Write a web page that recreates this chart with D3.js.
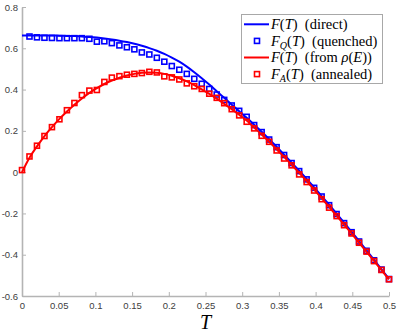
<!DOCTYPE html>
<html>
<head>
<meta charset="utf-8">
<script src="https://cdn.jsdelivr.net/npm/d3@7"></script>
<style>
  body { margin: 0; background: #fff; }
  svg { display: block; }
</style>
</head>
<body>
<script>
// temperature grid
var temps = [0, 0.0102, 0.0204, 0.0306, 0.0408, 0.051, 0.0612, 0.0714, 0.0816, 0.0918,
  0.102, 0.1122, 0.1224, 0.1327, 0.1429, 0.1531, 0.1633, 0.1735, 0.1837, 0.1939,
  0.2041, 0.2143, 0.2245, 0.2347, 0.2449, 0.2551, 0.2653, 0.2755, 0.2857, 0.2959,
  0.3061, 0.3163, 0.3265, 0.3367, 0.3469, 0.3571, 0.3673, 0.3776, 0.3878, 0.398,
  0.4082, 0.4184, 0.4286, 0.4388, 0.449, 0.4592, 0.4694, 0.4796, 0.4898, 0.5]

// F(T) direct (blue line)
var fDirect = [0.662, 0.662, 0.662, 0.662, 0.662, 0.661, 0.66, 0.659, 0.657, 0.655,
  0.652, 0.648, 0.643, 0.637, 0.63, 0.622, 0.612, 0.601, 0.588, 0.573,
  0.555, 0.535, 0.511, 0.484, 0.455, 0.424, 0.392, 0.36, 0.327, 0.295,
  0.263, 0.23, 0.196, 0.16, 0.123, 0.085, 0.046, 0.007, -0.033, -0.074,
  -0.116, -0.158, -0.201, -0.245, -0.289, -0.334, -0.379, -0.425, -0.471, -0.517]

// F_Q(T) quenched (blue squares)
var fQuenched = [null, 0.657, 0.653, 0.651, 0.65, 0.649, 0.649, 0.649, 0.649, 0.646,
  0.632, 0.634, 0.625, 0.614, 0.605, 0.595, 0.58, 0.57, 0.554, 0.535,
  0.514, 0.496, 0.476, 0.452, 0.428, 0.403, 0.376, 0.35, 0.323, 0.297,
  0.268, 0.228, 0.194, 0.158, 0.121, 0.083, 0.044, 0.005, -0.035, -0.076,
  -0.118, -0.16, -0.203, -0.247, -0.291, -0.336, -0.381, -0.427, -0.472, -0.518]

// F(T) from rho(E) (red line)
var fRho = [0.0, 0.07, 0.125, 0.175, 0.218, 0.258, 0.294, 0.327, 0.357, 0.384,
  0.407, 0.427, 0.444, 0.457, 0.468, 0.476, 0.481, 0.483, 0.481, 0.476,
  0.467, 0.455, 0.44, 0.422, 0.401, 0.379, 0.356, 0.331, 0.305, 0.278,
  0.25, 0.216, 0.182, 0.147, 0.111, 0.074, 0.036, -0.003, -0.043, -0.084,
  -0.126, -0.168, -0.211, -0.254, -0.298, -0.342, -0.386, -0.43, -0.475, -0.52]

// F_A(T) annealed (red squares)
var fAnnealed = [0.01, 0.076, 0.128, 0.175, 0.218, 0.256, 0.3, 0.335, 0.373, 0.395,
  0.398, 0.437, 0.458, 0.465, 0.472, 0.476, 0.48, 0.486, 0.483, 0.464,
  0.459, 0.449, 0.43, 0.416, 0.403, 0.38, 0.36, 0.334, 0.305, 0.275,
  0.244, 0.212, 0.176, 0.147, 0.105, 0.066, 0.033, -0.011, -0.048, -0.089,
  -0.131, -0.172, -0.213, -0.257, -0.297, -0.342, -0.385, -0.431, -0.474, -0.519]

var xTicks = [0, 0.05, 0.1, 0.15, 0.2, 0.25, 0.3, 0.35, 0.4, 0.45, 0.5]
var xTickLabels = ["0", "0.05", "0.1", "0.15", "0.2", "0.25", "0.3", "0.35", "0.4", "0.45", "0.5"]
var yTicks = [-0.6, -0.4, -0.2, 0, 0.2, 0.4, 0.6, 0.8]
var yTickLabels = ["-0.6", "-0.4", "-0.2", "0", "0.2", "0.4", "0.6", "0.8"]

var width = 399, height = 333
var margin = {top: 7, right: 10, bottom: 37, left: 22}

var svg = d3.select("body")
            .append("svg")
            .attr("width", width)
            .attr("height", height)

var x = d3.scaleLinear().domain([0, 0.5]).range([margin.left, width - margin.right])
var y = d3.scaleLinear().domain([-0.6, 0.8]).range([height - margin.bottom, margin.top])

var axisColor = "#b4b4b4"
var labelColor = "#404040"

// axes (box off, ticks inward)
var gx = svg.append("g")
    .attr("transform", "translate(0," + (height - margin.bottom) + ")")
    .call(d3.axisBottom(x)
      .tickValues(xTicks)
      .tickFormat(function(d, i){ return xTickLabels[i] })
      .tickSizeInner(-4)
      .tickSizeOuter(0)
      .tickPadding(6))

var gy = svg.append("g")
    .attr("transform", "translate(" + margin.left + ",0)")
    .call(d3.axisLeft(y)
      .tickValues(yTicks)
      .tickFormat(function(d, i){ return yTickLabels[i] })
      .tickSizeInner(-4)
      .tickSizeOuter(0)
      .tickPadding(4))

svg.selectAll(".domain").attr("stroke", axisColor).attr("stroke-width", 1.6)
svg.selectAll(".tick line").attr("stroke", axisColor).attr("stroke-width", 1)
svg.selectAll(".tick text")
    .attr("fill", labelColor)
    .style("font-family", "'Liberation Sans', Arial, sans-serif")
    .style("font-size", "9.5px")

// x label
svg.append("text")
    .attr("x", x(0.25))
    .attr("y", 329)
    .attr("text-anchor", "middle")
    .style("font-family", "'Liberation Serif', serif")
    .style("font-style", "italic")
    .style("font-size", "20px")
    .text("T")

var pts = temps.map(function(t, i){
  return {t: t, direct: fDirect[i], q: fQuenched[i], rho: fRho[i], a: fAnnealed[i]}
})

var lineDirect = d3.line()
    .curve(d3.curveMonotoneX)
    .x(function(d){ return x(d.t) })
    .y(function(d){ return y(d.direct) })
var lineRho = d3.line()
    .curve(d3.curveMonotoneX)
    .x(function(d){ return x(d.t) })
    .y(function(d){ return y(d.rho) })

var ms = 5

svg.append("path")
    .datum(pts)
    .attr("d", lineDirect)
    .attr("fill", "none")
    .attr("stroke", "#0000ff")
    .attr("stroke-width", 2)

svg.selectAll("rect.quenched")
    .data(pts.filter(function(d){ return d.q != null }))
    .enter()
    .append("rect")
    .attr("class", "quenched")
    .attr("x", function(d){ return x(d.t) - ms/2 })
    .attr("y", function(d){ return y(d.q) - ms/2 })
    .attr("width", ms)
    .attr("height", ms)
    .attr("fill", "none")
    .attr("stroke", "#0000ff")
    .attr("stroke-width", 1.6)

svg.append("path")
    .datum(pts)
    .attr("d", lineRho)
    .attr("fill", "none")
    .attr("stroke", "#ff0000")
    .attr("stroke-width", 2)

svg.selectAll("rect.annealed")
    .data(pts)
    .enter()
    .append("rect")
    .attr("class", "annealed")
    .attr("x", function(d){ return x(d.t) - ms/2 })
    .attr("y", function(d){ return y(d.a) - ms/2 })
    .attr("width", ms)
    .attr("height", ms)
    .attr("fill", "none")
    .attr("stroke", "#ff0000")
    .attr("stroke-width", 1.6)

// legend
var legend = svg.append("g")
legend.append("rect")
    .attr("x", 241.5)
    .attr("y", 14.5)
    .attr("width", 141)
    .attr("height", 69)
    .attr("fill", "#fff")
    .attr("stroke", "#a8a8a8")
    .attr("stroke-width", 1)

var entries = [
  {kind: "line", color: "#0000ff", parts: [["F", "i"], ["(", "n"], ["T", "i"], [")  (direct)", "n"]]},
  {kind: "mark", color: "#0000ff", parts: [["F", "i"], ["Q", "sub"], ["(", "n"], ["T", "i"], [")  (quenched)", "n"]]},
  {kind: "line", color: "#ff0000", parts: [["F", "i"], ["(", "n"], ["T", "i"], [")  (from ", "n"], ["ρ", "i"], ["(", "n"], ["E", "i"], ["))", "n"]]},
  {kind: "mark", color: "#ff0000", parts: [["F", "i"], ["A", "sub"], ["(", "n"], ["T", "i"], [")  (annealed)", "n"]]}
]

entries.forEach(function(e, i){
  var cy = 24.3 + i * 16.6
  if (e.kind == "line") {
    legend.append("line")
      .attr("x1", 244).attr("x2", 269)
      .attr("y1", cy).attr("y2", cy)
      .attr("stroke", e.color)
      .attr("stroke-width", 2)
  } else {
    legend.append("rect")
      .attr("x", 257 - ms/2).attr("y", cy - ms/2)
      .attr("width", ms).attr("height", ms)
      .attr("fill", "none")
      .attr("stroke", e.color)
      .attr("stroke-width", 1.6)
  }
  var t = legend.append("text")
    .attr("x", 271)
    .attr("y", cy + 4.8)
    .style("font-family", "'Liberation Serif', serif")
    .style("font-size", "14.5px")
    .style("white-space", "pre")
  e.parts.forEach(function(p){
    var s = t.append("tspan").text(p[0])
    if (p[1] == "i") s.style("font-style", "italic")
    if (p[1] == "sub") {
      s.style("font-style", "italic").style("font-size", "10px").attr("dy", 3)
    }
    if (p[1] != "sub" && t.attr("data-sub") == "1") {
      s.attr("dy", -3)
    }
    t.attr("data-sub", p[1] == "sub" ? "1" : "0")
  })
})
</script>
</body>
</html>
